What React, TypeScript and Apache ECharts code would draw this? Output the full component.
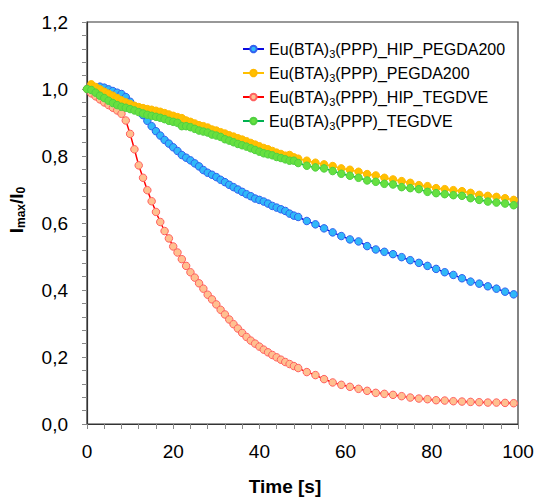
import React, { useEffect, useRef } from "react";
import * as echarts from "echarts";

const FONT = '"Liberation Sans", Arial, sans-serif';

// time [s]: every 1 s up to 49, then every 2 s
const time = [
  0, 1, 2, 3, 4, 5, 6, 7, 8, 9, 10, 11, 12, 13, 14, 15, 16, 17, 18, 19, 20, 21, 22, 23, 24,
  25, 26, 27, 28, 29, 30, 31, 32, 33, 34, 35, 36, 37, 38, 39, 40, 41, 42, 43, 44, 45, 46, 47, 48, 49,
  51, 53, 55, 57, 59, 61, 63, 65, 67, 69, 71, 73, 75, 77, 79, 81, 83, 85, 87, 89, 91, 93, 95, 97, 99,
];

const seriesNames = [
  "Eu(BTA)3(PPP)_HIP_PEGDA200",
  "Eu(BTA)3(PPP)_PEGDA200",
  "Eu(BTA)3(PPP)_HIP_TEGDVE",
  "Eu(BTA)3(PPP)_TEGDVE",
];

const hipPegda200 = [
  null, null, null, 1.007, 1.004, 0.999, 0.994, 0.989, 0.985, 0.976,
  0.962, 0.948, 0.935, 0.922, 0.905, 0.889, 0.874, 0.861, 0.848, 0.837,
  0.826, 0.815, 0.803, 0.795, 0.787, 0.778, 0.769, 0.758, 0.750, 0.744,
  0.737, 0.729, 0.722, 0.714, 0.707, 0.700, 0.693, 0.686, 0.680, 0.673,
  0.669, 0.664, 0.658, 0.651, 0.646, 0.641, 0.636, 0.628, 0.622, 0.618,
  0.606, 0.596, 0.584, 0.572, 0.561, 0.551, 0.545, 0.531, 0.521, 0.514,
  0.507, 0.498, 0.489, 0.481, 0.472, 0.463, 0.453, 0.445, 0.435, 0.425,
  0.419, 0.411, 0.404, 0.395, 0.387,
];

const pegda200 = [
  null, 1.014, 1.006, 0.999, 0.992, 0.986, 0.980, 0.973, 0.966, 0.960,
  0.955, 0.950, 0.946, 0.943, 0.940, 0.938, 0.935, 0.932, 0.928, 0.924,
  0.920, 0.916, 0.913, 0.906, 0.902, 0.897, 0.892, 0.889, 0.885, 0.879,
  0.876, 0.871, 0.867, 0.862, 0.858, 0.853, 0.849, 0.844, 0.839, 0.834,
  0.829, 0.824, 0.820, 0.815, 0.810, 0.806, 0.801, 0.803, 0.796, 0.792,
  0.786, 0.780, 0.775, 0.770, 0.763, 0.759, 0.753, 0.746, 0.742, 0.735,
  0.730, 0.725, 0.720, 0.713, 0.710, 0.704, 0.701, 0.698, 0.695, 0.690,
  0.684, 0.681, 0.678, 0.674, 0.669,
];

const hipTegdve = [
  1.000, 0.987, 0.978, 0.969, 0.960, 0.952, 0.944, 0.936, 0.926, 0.906,
  0.866, 0.820, 0.772, 0.735, 0.698, 0.665, 0.633, 0.603, 0.576, 0.554,
  0.530, 0.512, 0.492, 0.472, 0.453, 0.437, 0.420, 0.404, 0.386, 0.372,
  0.357, 0.341, 0.327, 0.312, 0.298, 0.285, 0.272, 0.260, 0.249, 0.240,
  0.231, 0.222, 0.214, 0.206, 0.199, 0.192, 0.185, 0.179, 0.173, 0.167,
  0.155, 0.146, 0.134, 0.124, 0.117, 0.111, 0.105, 0.099, 0.093, 0.090,
  0.087, 0.083, 0.079, 0.076, 0.074, 0.071, 0.070, 0.068, 0.067, 0.066,
  0.065, 0.064, 0.064, 0.063, 0.062,
];

const tegdve = [
  1.000, 0.997, 0.989, 0.980, 0.973, 0.965, 0.958, 0.952, 0.947, 0.944,
  0.940, 0.936, 0.931, 0.927, 0.923, 0.920, 0.917, 0.914, 0.910, 0.905,
  0.902, 0.899, 0.889, 0.889, 0.886, 0.881, 0.876, 0.873, 0.870, 0.864,
  0.861, 0.857, 0.850, 0.846, 0.841, 0.836, 0.832, 0.828, 0.823, 0.818,
  0.813, 0.808, 0.805, 0.802, 0.797, 0.794, 0.790, 0.786, 0.786, 0.779,
  0.771, 0.766, 0.763, 0.755, 0.747, 0.741, 0.735, 0.727, 0.723, 0.717,
  0.715, 0.707, 0.704, 0.701, 0.693, 0.689, 0.686, 0.683, 0.681, 0.674,
  0.669, 0.664, 0.661, 0.658, 0.653,
];

const seriesValues = [hipPegda200, pegda200, hipTegdve, tegdve];

const lineColors = ["#0A0AE0", "#FFC000", "#FF0000", "#00B050"];
const fillColors = ["#30B8F8", "#FFC000", "#FFC090", "#66E040"];
const borderColors = ["#3060F0", "#FFB800", "#FF6060", "#50D040"];

function pairs(values: (number | null)[]) {
  const out: [number, number][] = [];
  values.forEach((v, i) => {
    if (v !== null) out.push([time[i], v]);
  });
  return out;
}

export default function App() {
  const ref = useRef<HTMLDivElement>(null);

  useEffect(() => {
    if (!ref.current) return;
    const chart = echarts.init(ref.current, undefined, { renderer: "svg" });
    const option = {
      animation: false,
      backgroundColor: "#ffffff",
      grid: {
        left: 87,
        right: 19,
        top: 22,
        bottom: 74,
        show: true,
        borderColor: "#333",
        borderWidth: 1.2,
      },
      legend: {
        orient: "vertical",
        left: 237,
        top: 34,
        itemWidth: 21,
        itemHeight: 8,
        itemGap: 4,
        data: seriesNames,
        formatter: (name: string) => name.replace("(BTA)3", "(BTA){s|3}"),
        textStyle: {
          fontFamily: FONT,
          fontSize: 16,
          color: "#000",
          lineHeight: 20,
          rich: {
            s: { fontFamily: FONT, fontSize: 11, lineHeight: 11, verticalAlign: "bottom", color: "#000" },
          },
        },
      },
      xAxis: {
        type: "value",
        min: 0,
        max: 100,
        interval: 20,
        axisLine: { show: true, lineStyle: { color: "#333", width: 1.2 } },
        axisTick: { show: true, inside: false, length: 5, lineStyle: { color: "#888" } },
        minorTick: { show: true, splitNumber: 5, length: 5, lineStyle: { color: "#888" } },
        splitLine: { show: false },
        axisLabel: { fontFamily: FONT, fontSize: 19, color: "#000", margin: 18 },
      },
      yAxis: {
        type: "value",
        min: 0,
        max: 1.2,
        interval: 0.2,
        axisLine: { show: true, lineStyle: { color: "#333", width: 1.2 } },
        axisTick: { show: true, inside: false, length: 5, lineStyle: { color: "#888" } },
        minorTick: { show: true, splitNumber: 5, length: 5, lineStyle: { color: "#888" } },
        splitLine: { show: false },
        axisLabel: {
          fontFamily: FONT,
          fontSize: 19,
          color: "#000",
          margin: 19,
          formatter: (v: number) => v.toFixed(1).replace(".", ","),
        },
      },
      graphic: [
        {
          type: "text",
          x: 285,
          y: 486,
          style: {
            text: "Time [s]",
            fontFamily: FONT,
            fontSize: 19,
            fontWeight: "bold",
            fill: "#000",
            align: "center",
            verticalAlign: "middle",
          },
        },
        {
          type: "text",
          x: 16,
          y: 210,
          rotation: Math.PI / 2,
          style: {
            text: "I{s|max}/I{s|0}",
            fontFamily: FONT,
            fontSize: 19,
            fontWeight: "bold",
            fill: "#000",
            lineHeight: 22,
            align: "center",
            verticalAlign: "middle",
            rich: {
              s: { fontFamily: FONT, fontSize: 12, fontWeight: "bold", lineHeight: 12, verticalAlign: "bottom", fill: "#000" },
            },
          },
        },
      ],
      series: seriesNames.map((name, i) => ({
        name,
        type: "line",
        data: pairs(seriesValues[i]),
        symbol: "circle",
        symbolSize: 7.5,
        showSymbol: true,
        z: 2 + i,
        lineStyle: { color: lineColors[i], width: 1.5 },
        itemStyle: { color: fillColors[i], borderColor: borderColors[i], borderWidth: 1 },
      })),
    };
    chart.setOption(option as any);
    return () => chart.dispose();
  }, []);

  return (
    <div
      ref={ref}
      style={{ position: "fixed", left: 0, top: 0, width: 537, height: 498, background: "#fff" }}
    />
  );
}
